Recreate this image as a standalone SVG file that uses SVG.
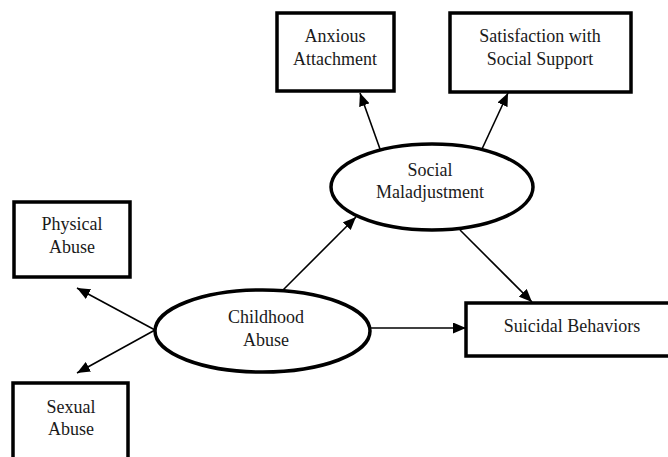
<svg xmlns="http://www.w3.org/2000/svg" width="668" height="457" viewBox="0 0 668 457">
<style>
.box{fill:#fff;stroke:#000;stroke-width:3.5}
.ell{fill:#fff;stroke:#000;stroke-width:3.5}
.lbl{font-family:"Liberation Serif","Times New Roman",serif;font-size:18px;fill:#1a1a1a;text-anchor:middle}
.edge{stroke:#000;stroke-width:1.6;fill:none;marker-end:url(#ah)}
</style>
<defs>
<marker id="ah" markerUnits="userSpaceOnUse" markerWidth="13" markerHeight="11" refX="13" refY="5.5" orient="auto">
<path d="M0,0 L13,5.5 L0,11 z" fill="#000"/>
</marker>
</defs>
<rect width="668" height="457" fill="#fff"/>
<g id="connectors">
<line class="edge" x1="380" y1="149" x2="360" y2="93"/>
<line class="edge" x1="482" y1="149" x2="508" y2="93"/>
<line class="edge" x1="460" y1="230" x2="532" y2="302"/>
<line class="edge" x1="282" y1="291" x2="356" y2="217"/>
<line class="edge" x1="370" y1="328" x2="466" y2="328"/>
<line class="edge" x1="155" y1="330" x2="77" y2="288"/>
<line class="edge" x1="155" y1="330" x2="77" y2="373"/>
</g>
<g id="anxious">
<rect class="box" x="277" y="13" width="117" height="78"/>
<text class="lbl" x="335" y="42">Anxious</text>
<text class="lbl" x="335" y="65">Attachment</text>
</g>
<g id="satisfaction">
<rect class="box" x="450" y="13" width="181" height="79"/>
<text class="lbl" x="540" y="42">Satisfaction with</text>
<text class="lbl" x="540" y="65">Social Support</text>
</g>
<g id="social">
<ellipse class="ell" cx="432" cy="187" rx="101" ry="43"/>
<text class="lbl" x="430" y="176">Social</text>
<text class="lbl" x="430" y="198">Maladjustment</text>
</g>
<g id="physical">
<rect class="box" x="14" y="202" width="116" height="75"/>
<text class="lbl" x="72" y="230">Physical</text>
<text class="lbl" x="72" y="253">Abuse</text>
</g>
<g id="childhood">
<ellipse class="ell" cx="262.5" cy="331" rx="107.5" ry="41"/>
<text class="lbl" x="266" y="323">Childhood</text>
<text class="lbl" x="266" y="346">Abuse</text>
</g>
<g id="suicidal">
<rect class="box" x="466" y="303" width="240" height="53"/>
<text class="lbl" x="572" y="332">Suicidal Behaviors</text>
</g>
<g id="sexual">
<rect class="box" x="13" y="383" width="115" height="90"/>
<text class="lbl" x="71" y="413">Sexual</text>
<text class="lbl" x="71" y="435">Abuse</text>
</g>
</svg>
